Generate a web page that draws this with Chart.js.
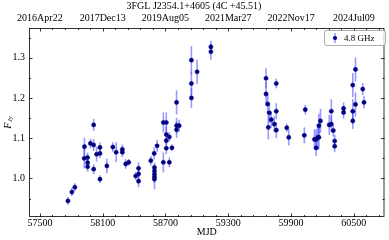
<!DOCTYPE html>
<html><head><meta charset="utf-8">
<script src="https://cdn.jsdelivr.net/npm/chart.js@4.4.0/dist/chart.umd.min.js"></script>
<style>html,body{margin:0;padding:0;background:#fff}#wrap{width:389px;height:240px}</style>
</head><body><div id="wrap"><canvas id="c" width="389" height="240"></canvas></div>
<script>
const titleText = '3FGL J2354.1+4605 (4C +45.51)';
const seriesLabel = '4.8 GHz';
const mjdTicks = [57500, 58100, 58700, 59300, 59900, 60500];
const dateLabels = ['2016Apr22', '2017Dec13', '2019Aug05', '2021Mar27', '2022Nov17', '2024Jul09'];
const fluxTicks = [1.0, 1.1, 1.2, 1.3];

const mjd = [
  57768, 57806, 57834, 57926, 57924, 57956, 57956, 57956, 57983, 58014, 58014, 58014,
  58042, 58074, 58074, 58074, 58140, 58197, 58229, 58288, 58288, 58320, 58349, 58415,
  58443, 58443, 58443, 58560, 58592, 58595, 58595, 58595, 58595, 58595, 58620, 58680,
  58680, 58708, 58708, 58708, 58708, 58737, 58737, 58762, 58806, 58806, 58806, 58831,
  58948, 58948, 58948, 59002, 59134, 59134,
  59661, 59661, 59677, 59683, 59692, 59711, 59740, 59759, 59759, 59759, 59859, 59878,
  60027, 60036, 60124, 60140, 60140, 60155, 60166, 60166, 60181, 60265, 60285, 60285,
  60304, 60317, 60317, 60402, 60402, 60490, 60490, 60490, 60516, 60516, 60585, 60597
];
const flux = [
  0.944, 0.966, 0.978, 1.079, 1.050, 1.052, 1.039, 1.029, 1.087, 1.083, 1.133, 1.023,
  1.060, 1.077, 1.062, 0.998, 1.031, 1.078, 1.065, 1.072, 1.065, 1.036, 1.040, 1.006,
  1.025, 1.011, 0.993, 1.044, 1.062, 1.027, 1.019, 1.011, 1.004, 0.998, 1.081, 1.139,
  1.040, 1.139, 1.109, 1.094, 1.075, 1.103, 1.040, 1.076, 1.189, 1.131, 1.121, 1.131,
  1.294, 1.236, 1.200, 1.265, 1.327, 1.315,
  1.249, 1.210, 1.185, 1.127, 1.163, 1.146, 1.135, 1.236, 1.167, 1.120, 1.126, 1.102,
  1.107, 1.171, 1.097, 1.097, 1.076, 1.102, 1.102, 1.131, 1.143, 1.133, 1.167, 1.135,
  1.119, 1.093, 1.080, 1.174, 1.164, 1.232, 1.167, 1.143, 1.271, 1.184, 1.222, 1.189
];
const fluxErr = [
  0.010, 0.010, 0.010, 0.022, 0.025, 0.012, 0.012, 0.012, 0.012, 0.015, 0.015, 0.012,
  0.018, 0.012, 0.012, 0.010, 0.018, 0.012, 0.025, 0.012, 0.012, 0.012, 0.008, 0.010,
  0.015, 0.012, 0.015, 0.012, 0.015, 0.012, 0.015, 0.015, 0.015, 0.025, 0.015, 0.025,
  0.025, 0.025, 0.020, 0.012, 0.015, 0.012, 0.012, 0.008, 0.030, 0.020, 0.020, 0.015,
  0.035, 0.030, 0.025, 0.030, 0.015, 0.020,
  0.025, 0.030, 0.025, 0.030, 0.025, 0.020, 0.020, 0.012, 0.020, 0.020, 0.010, 0.020,
  0.020, 0.012, 0.025, 0.025, 0.020, 0.030, 0.030, 0.030, 0.030, 0.025, 0.030, 0.020,
  0.015, 0.015, 0.015, 0.015, 0.015, 0.030, 0.030, 0.020, 0.030, 0.030, 0.015, 0.015
];

const X_MIN = 57396, X_MAX = 60793, Y_MIN = 0.904, Y_MAX = 1.374;
const FONT = "'Liberation Serif', 'Times New Roman', serif";
const ERR_COLOR = 'rgba(70,70,255,0.55)';
const PT_COLOR = '#00008f';

const decor = {
  id: 'decor',
  beforeDatasetsDraw(chart) {
    const ctx = chart.ctx, xs = chart.scales.x, ys = chart.scales.y;
    ctx.save();
    ctx.strokeStyle = ERR_COLOR;
    ctx.lineWidth = 1.6;
    for (let i = 0; i < mjd.length; i++) {
      const px = xs.getPixelForValue(mjd[i]);
      ctx.beginPath();
      ctx.moveTo(px, ys.getPixelForValue(flux[i] - fluxErr[i]));
      ctx.lineTo(px, ys.getPixelForValue(flux[i] + fluxErr[i]));
      ctx.stroke();
    }
    ctx.restore();
  },
  afterDraw(chart) {
    const ctx = chart.ctx, a = chart.chartArea, xs = chart.scales.x, ys = chart.scales.y;
    ctx.save();
    ctx.strokeStyle = '#000';
    ctx.lineWidth = 0.8;
    ctx.strokeRect(a.left + 0.5, a.top + 0.5, a.right - a.left - 1, a.bottom - a.top - 1);
    const tick = (x1, y1, x2, y2) => { ctx.beginPath(); ctx.moveTo(x1, y1); ctx.lineTo(x2, y2); ctx.stroke(); };
    // x ticks (major + minor, inward, top & bottom)
    const xMinorStep = (mjdTicks[1] - mjdTicks[0]) / 5;
    for (let v = mjdTicks[0] - xMinorStep * Math.floor((mjdTicks[0] - X_MIN) / xMinorStep); v <= X_MAX; v += xMinorStep) {
      const major = mjdTicks.some(t => Math.abs(t - v) < 1e-6);
      const L = major ? 3.5 : 2;
      const px = Math.round(xs.getPixelForValue(v)) + 0.5;
      tick(px, a.bottom, px, a.bottom - L);
      tick(px, a.top, px, a.top + L);
    }
    const yMinorStep = 0.05;
    for (let k = Math.ceil(Y_MIN / yMinorStep); k * yMinorStep <= Y_MAX; k++) {
      const v = k * yMinorStep;
      const major = fluxTicks.some(t => Math.abs(t - v) < 1e-6);
      const L = major ? 3.5 : 2;
      const py = Math.round(ys.getPixelForValue(v)) + 0.5;
      tick(a.left, py, a.left + L, py);
      tick(a.right, py, a.right - L, py);
    }
    // y label F_Jy
    ctx.fillStyle = '#000';
    ctx.translate(8, (a.top + a.bottom) / 2);
    ctx.rotate(-Math.PI / 2);
    ctx.textBaseline = 'middle';
    ctx.font = 'italic 10px ' + FONT;
    const fw = ctx.measureText('F').width;
    ctx.font = 'italic 7px ' + FONT;
    const sw = ctx.measureText('Jy').width;
    const x0 = -(fw + sw) / 2;
    ctx.font = 'italic 10px ' + FONT;
    ctx.textAlign = 'left';
    ctx.fillText('F', x0, 0);
    ctx.font = 'italic 7px ' + FONT;
    ctx.fillText('Jy', x0 + fw + 0.3, 2.5);
    ctx.restore();
    // legend
    ctx.save();
    const lx = 324.5, ly = 30.5, lw = 61, lh = 15;
    ctx.fillStyle = 'rgba(255,255,255,0.8)';
    ctx.strokeStyle = '#999';
    ctx.lineWidth = 0.8;
    ctx.beginPath();
    ctx.roundRect(lx, ly, lw, lh, 2);
    ctx.fill();
    ctx.stroke();
    ctx.strokeStyle = ERR_COLOR;
    ctx.lineWidth = 1.6;
    tick(335, ly + 2.5, 335, ly + lh - 2.5);
    ctx.fillStyle = PT_COLOR;
    ctx.beginPath();
    ctx.arc(335, ly + lh / 2, 2.1, 0, Math.PI * 2);
    ctx.fill();
    ctx.fillStyle = '#000';
    ctx.font = '9px ' + FONT;
    ctx.textBaseline = 'middle';
    ctx.textAlign = 'left';
    ctx.fillText(seriesLabel, 344, ly + lh / 2 + 0.5);
    ctx.restore();
  }
};

const tickFont = { family: FONT, size: 10 };
new Chart(document.getElementById('c'), {
  type: 'scatter',
  data: {
    datasets: [{
      label: seriesLabel,
      data: mjd.map((x, i) => ({ x: x, y: flux[i] })),
      pointRadius: 2.1,
      pointBackgroundColor: PT_COLOR,
      pointBorderColor: '#000060',
      pointBorderWidth: 0.5,
      showLine: false
    }]
  },
  options: {
    responsive: false,
    devicePixelRatio: 1,
    animation: false,
    layout: { padding: { left: 0, right: 1, top: 0, bottom: 0 } },
    plugins: {
      legend: { display: false },
      tooltip: { enabled: false },
      title: {
        display: true, text: titleText, color: '#000',
        font: { family: FONT, size: 10, weight: 'normal' },
        padding: { top: 0, bottom: 0 }
      }
    },
    scales: {
      x: {
        type: 'linear', position: 'bottom', min: X_MIN, max: X_MAX,
        grid: { display: false, drawTicks: false }, border: { display: false },
        afterBuildTicks: s => { s.ticks = mjdTicks.map(v => ({ value: v })); },
        ticks: { font: tickFont, color: '#000', padding: 0, maxRotation: 0, autoSkip: false, callback: v => String(v) },
        title: { display: true, text: 'MJD', color: '#000', font: tickFont, padding: { top: 0, bottom: 2 } },
        afterFit: s => { s.height = 23; }
      },
      x2: {
        type: 'linear', position: 'top', min: X_MIN, max: X_MAX,
        grid: { display: false, drawTicks: false }, border: { display: false },
        afterBuildTicks: s => { s.ticks = mjdTicks.map(v => ({ value: v })); },
        ticks: { font: tickFont, color: '#000', padding: 4, maxRotation: 0, autoSkip: false,
          callback: v => dateLabels[mjdTicks.indexOf(v)] },
        afterFit: s => { s.height = 16; }
      },
      y: {
        type: 'linear', min: Y_MIN, max: Y_MAX,
        grid: { display: false, drawTicks: false }, border: { display: false },
        afterBuildTicks: s => { s.ticks = fluxTicks.map(v => ({ value: v })); },
        ticks: { font: tickFont, color: '#000', padding: 4, autoSkip: false, callback: v => v.toFixed(1) },
        afterFit: s => { s.width = 29; }
      }
    }
  },
  plugins: [decor]
});
</script>
</body></html>
